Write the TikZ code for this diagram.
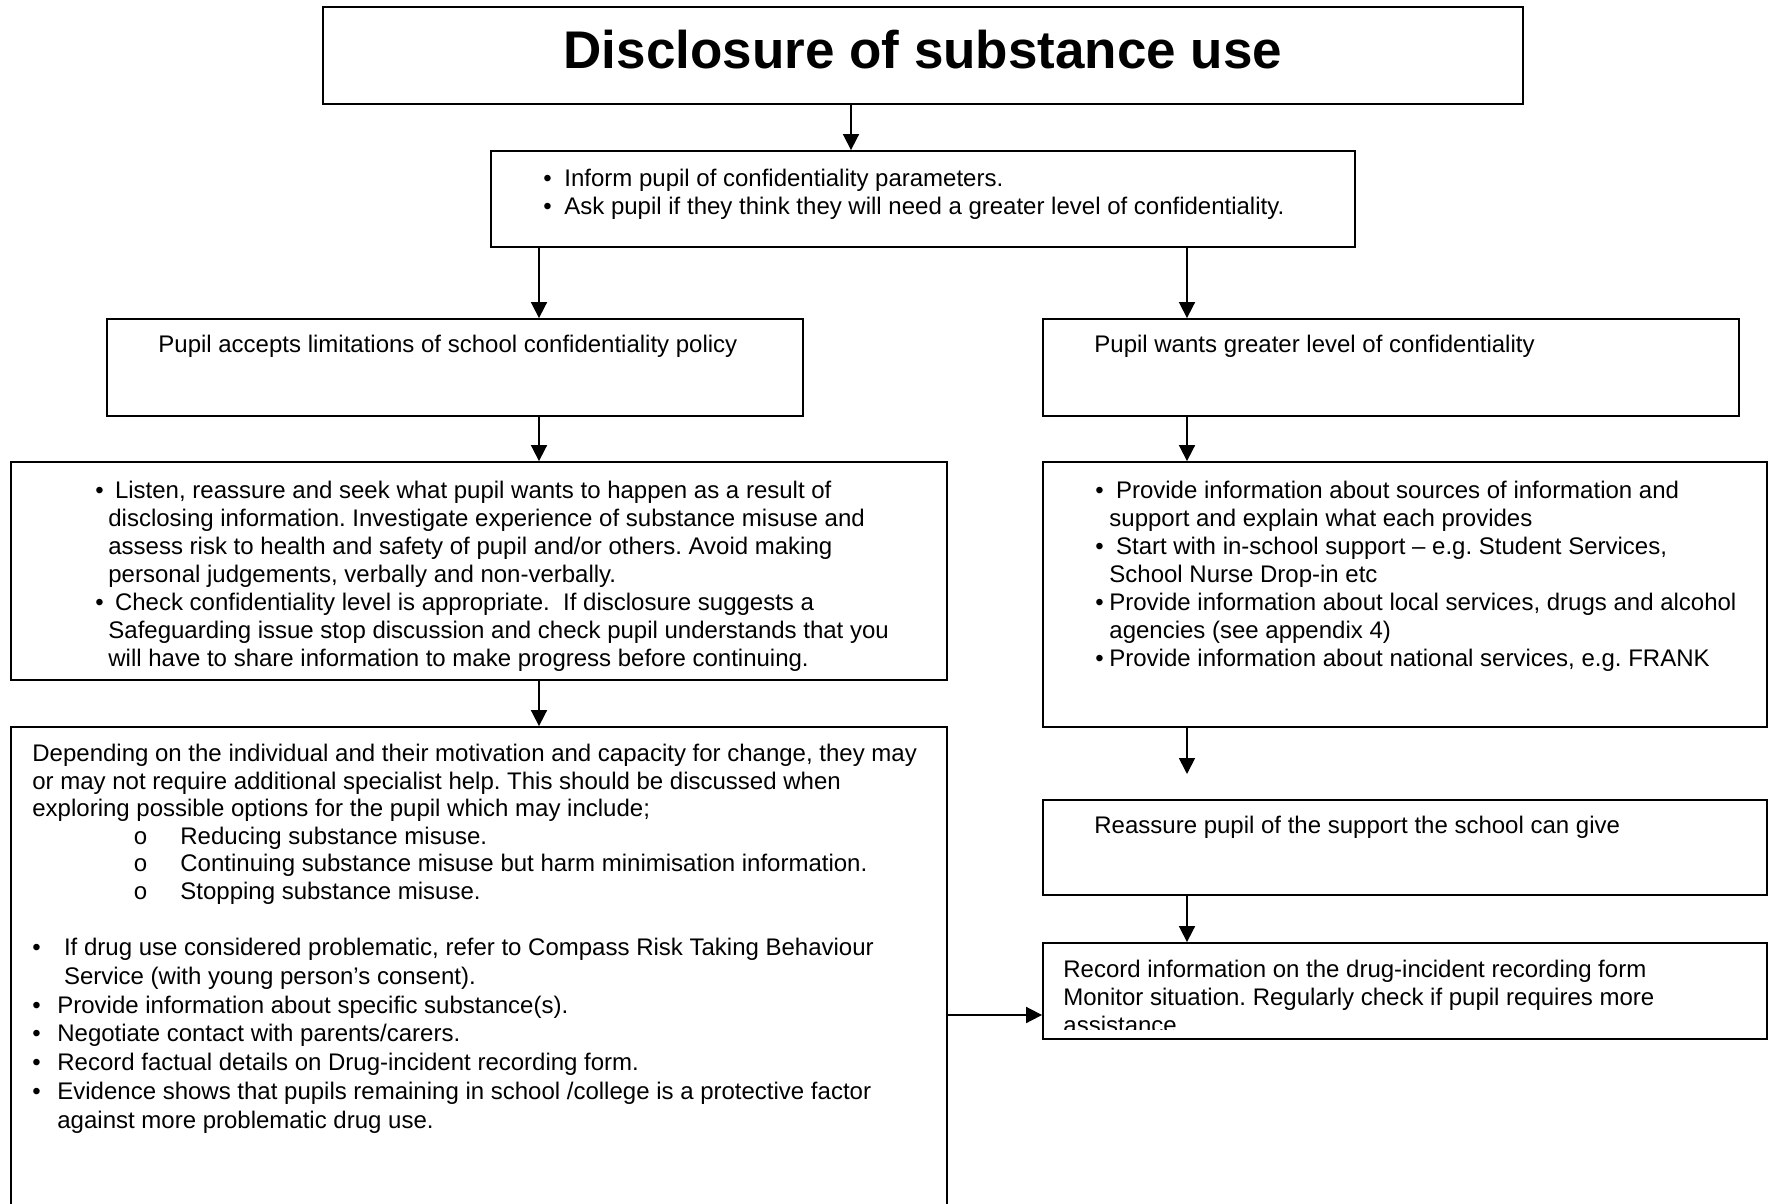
\documentclass[tikz,border=0pt]{standalone}
\usepackage{fontspec}
\setmainfont{Liberation Sans}
\newfontfamily\courierlike{Liberation Mono}
\usetikzlibrary{arrows.meta,fit}
\frenchspacing
% first-line strut: fixes the distance from a text block's top to its first baseline
\newcommand\firstline{\rule{0pt}{10pt}}
\newcommand\bulletcol[1]{\makebox[#1][l]{\textbullet}}
\newcommand\optionitem{\hspace*{50.5pt}\makebox[23.5pt][l]{\courierlike o}}
\begin{document}
\begin{tikzpicture}[x=0.5pt,y=-0.5pt,
  box/.style={draw, line width=0.9pt, inner sep=0pt},
  arr/.style={draw, line width=0.85pt, -{Triangle[length=8pt,width=8pt]}},
  body/.style={inner sep=0pt, align=left, font=\fontsize{12}{14}\selectfont},
  block/.style={body, anchor=north west},
  oneline/.style={body, anchor=base west},
  heading/.style={inner sep=0pt, anchor=base, font=\fontsize{26.5}{30}\selectfont\bfseries}]

\fill[white] (0,0) rectangle (1768,1204);
\path[use as bounding box, clip] (0,0) rectangle (1768,1204);

% ---- boxes ----
\node[box, fit={(323,7) (1523,104)}] (title) {};
\node[box, fit={(491,151) (1355,247)}] (inform) {};
\node[box, fit={(107,319) (803,416)}] (accepts) {};
\node[box, fit={(1043,319) (1739,416)}] (wants) {};
\node[box, fit={(11,462) (947,680)}] (listen) {};
\node[box, fit={(1043,462) (1767,727)}] (sources) {};
\node[box, fit={(11,727) (947,1240)}] (options) {};
\node[box, fit={(1043,800) (1767,895)}] (reassure) {};
\node[box, fit={(1043,943) (1767,1039)}] (record) {};

% ---- texts ----
\node[heading] (titletext) at (923,69) {Disclosure of substance use};

\node[block] (informtext) at (543,166) {\firstline\bulletcol{10.5pt}Inform pupil of confidentiality parameters.\\
\bulletcol{10.5pt}Ask pupil if they think they will need a greater level of confidentiality.};

\node[oneline] (acceptstext) at (158,352) {Pupil accepts limitations of school confidentiality policy};
\node[oneline] (wantstext) at (1094,352) {Pupil wants greater level of confidentiality};

\node[block] (listentext) at (95,478) {\firstline\bulletcol{6.5pt} Listen, reassure and seek what pupil wants to happen as a result of\\
\hspace*{6.5pt}disclosing information. Investigate experience of substance misuse and\\
\hspace*{6.5pt}assess risk to health and safety of pupil and/or others. Avoid making\\
\hspace*{6.5pt}personal judgements, verbally and non-verbally.\\
\bulletcol{6.5pt} Check confidentiality level is appropriate.\ \ If disclosure suggests a\\
\hspace*{6.5pt}Safeguarding issue stop discussion and check pupil understands that you\\
\hspace*{6.5pt}will have to share information to make progress before continuing.};

\node[block] (sourcestext) at (1095,478) {\firstline\bulletcol{7pt} Provide information about sources of information and\\
\hspace*{7pt}support and explain what each provides\\
\bulletcol{7pt} Start with in-school support -- e.g. Student Services,\\
\hspace*{7pt}School Nurse Drop-in etc\\
\bulletcol{7pt}Provide information about local services, drugs and alcohol\\
\hspace*{7pt}agencies (see appendix 4)\\
\bulletcol{7pt}Provide information about national services, e.g. FRANK};

\node[block] (optionstext) at (32,741) {\firstline Depending on the individual and their motivation and capacity for change, they may\\[-0.2pt]
or may not require additional specialist help. This should be discussed when\\[-0.2pt]
exploring possible options for the pupil which may include;\\[-0.2pt]
\optionitem Reducing substance misuse.\\[-0.2pt]
\optionitem Continuing substance misuse but harm minimisation information.\\[-0.2pt]
\optionitem Stopping substance misuse.\\[14pt]
\bulletcol{12.5pt} If drug use considered problematic, refer to Compass Risk Taking Behaviour\\[0.4pt]
\hspace*{12.5pt} Service (with young person’s consent).\\[0.4pt]
\bulletcol{12.5pt}Provide information about specific substance(s).\\[0.4pt]
\bulletcol{12.5pt}Negotiate contact with parents/carers.\\[0.4pt]
\bulletcol{12.5pt}Record factual details on Drug-incident recording form.\\[0.4pt]
\bulletcol{12.5pt}Evidence shows that pupils remaining in school /college is a protective factor\\[0.4pt]
\hspace*{12.5pt}against more problematic drug use.};

\node[oneline] (reassuretext) at (1094,833) {Reassure pupil of the support the school can give};

% the record text runs past its frame and is cut off above the bottom edge
\begin{scope}
  \clip (1043,943) rectangle (1767,1029);
  \node[block] (recordtext) at (1063,957) {\firstline Record information on the drug-incident recording form\\
  Monitor situation. Regularly check if pupil requires more\\
  assistance};
\end{scope}

% ---- connectors ----
\coordinate (gapend) at (1187,774);
\draw[arr] (title.south -| 851,0) -- (inform.north -| 851,0);
\draw[arr] (inform.south -| 539,0) -- (accepts.north -| 539,0);
\draw[arr] (inform.south -| 1187,0) -- (wants.north -| 1187,0);
\draw[arr] (accepts.south -| 539,0) -- (listen.north -| 539,0);
\draw[arr] (listen.south -| 539,0) -- (options.north -| 539,0);
\draw[arr] (wants.south -| 1187,0) -- (sources.north -| 1187,0);
\draw[arr] (sources.south -| gapend) -- (gapend);
\draw[arr] (reassure.south -| 1187,0) -- (record.north -| 1187,0);
\draw[arr] (options.east |- 0,1015) -- (record.west |- 0,1015);
\end{tikzpicture}
\end{document}
